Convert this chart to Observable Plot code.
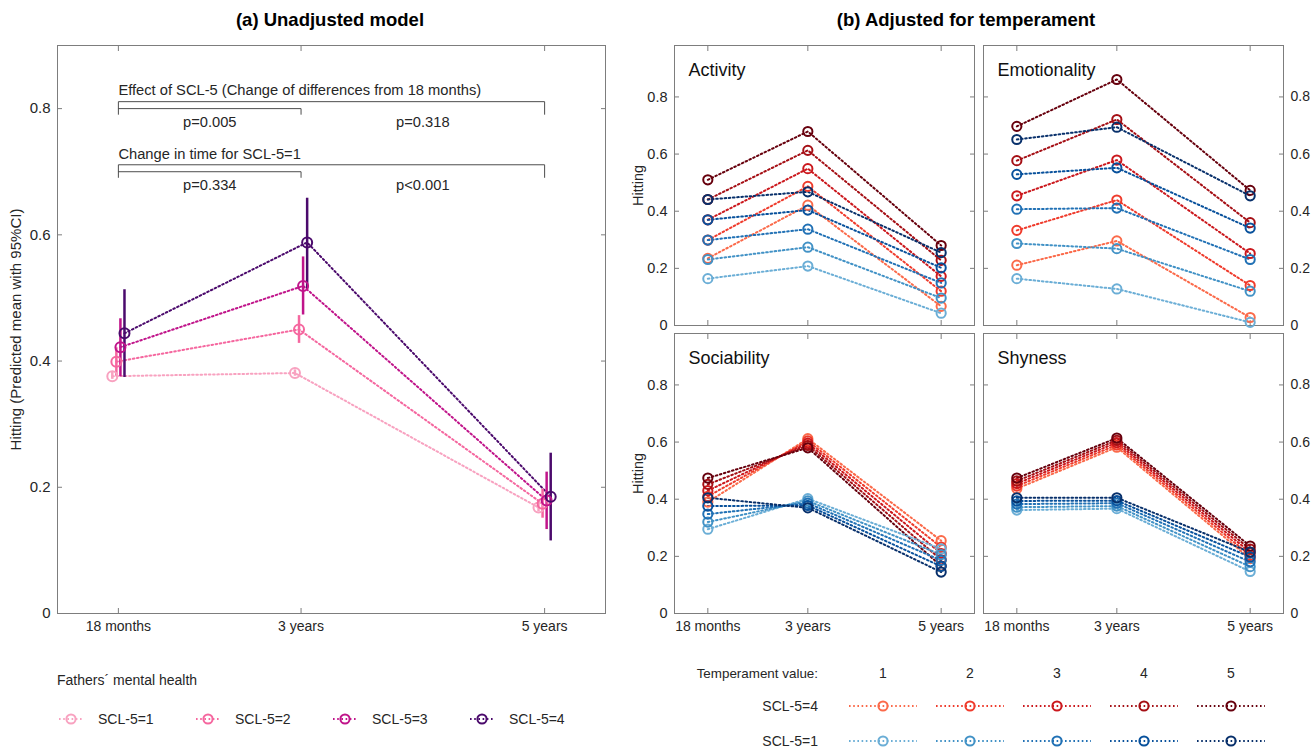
<!DOCTYPE html>
<html><head><meta charset="utf-8">
<script src="https://cdn.jsdelivr.net/npm/d3@7"></script>
<script src="https://cdn.jsdelivr.net/npm/@observablehq/plot@0.6"></script>
<style>
body{margin:0;background:#fff;font-family:"Liberation Sans",Arial,Helvetica,sans-serif;}
#root{position:relative;width:1312px;height:748px;overflow:hidden;background:#fff;}
.abs{position:absolute;}
.title{position:absolute;font-weight:bold;font-size:18.5px;color:#000;white-space:nowrap;transform:translate(-50%,-50%);}
</style></head><body><div id="root"></div>
<script>
// ---------- data ----------
const months = [18, 36, 60];
const timeLabels = ["18 months", "3 years", "5 years"];
const yTicks = [0, 0.2, 0.4, 0.6, 0.8];

// (a) Unadjusted model
const sclLabels = ["SCL-5=1", "SCL-5=2", "SCL-5=3", "SCL-5=4"];
const sclColors = ["#f8a2c0", "#f5679f", "#c0148a", "#4b0a6c"];
const sclDodge = [-0.6, -0.2, 0.2, 0.6];
const meanSCL = [[0.376, 0.381, 0.168], [0.399, 0.450, 0.174], [0.422, 0.519, 0.179], [0.444, 0.588, 0.185]];
const lowSCL  = [[0.371, 0.376, 0.161], [0.376, 0.428, 0.151], [0.375, 0.473, 0.133], [0.374, 0.514, 0.115]];
const highSCL = [[0.382, 0.386, 0.175], [0.421, 0.472, 0.197], [0.467, 0.565, 0.224], [0.513, 0.658, 0.254]];

const annotTexts = ["Effect of SCL-5 (Change of differences from 18 months)", "Change in time for SCL-5=1"];
const annotY = [0.829, 0.728];
const bracketTop = [0.811, 0.711];
const bracketMid = [0.800, 0.700];
const bracketBase = [0.791, 0.691];
const pFirst = ["p=0.005", "p=0.334"];
const pSecond = ["p=0.318", "p<0.001"];
const pY = [0.779, 0.679];

// (b) Adjusted for temperament: rows = temperament value 1..5, cols = 18m, 3y, 5y
const temperamentValues = [1, 2, 3, 4, 5];
const highColors = ["#fb6a4a", "#ef3b2c", "#cb181d", "#a50f15", "#67000d"]; // SCL-5=4
const lowColors  = ["#6baed6", "#4292c6", "#2171b5", "#08519c", "#08306b"]; // SCL-5=1

const activityHigh = [[0.235, 0.421, 0.067], [0.299, 0.487, 0.120], [0.370, 0.549, 0.172], [0.441, 0.613, 0.228], [0.510, 0.679, 0.280]];
const activityLow  = [[0.164, 0.208, 0.043], [0.231, 0.274, 0.096], [0.299, 0.337, 0.149], [0.370, 0.404, 0.202], [0.441, 0.468, 0.255]];
const emotionHigh  = [[0.211, 0.296, 0.028], [0.333, 0.439, 0.140], [0.454, 0.579, 0.252], [0.577, 0.721, 0.360], [0.697, 0.861, 0.473]];
const emotionLow   = [[0.164, 0.128, 0.011], [0.287, 0.269, 0.120], [0.407, 0.411, 0.231], [0.529, 0.552, 0.341], [0.651, 0.694, 0.454]];
const socialHigh   = [[0.390, 0.612, 0.255], [0.410, 0.604, 0.232], [0.430, 0.596, 0.210], [0.452, 0.588, 0.188], [0.474, 0.580, 0.166]];
const socialLow    = [[0.295, 0.402, 0.226], [0.320, 0.394, 0.206], [0.348, 0.386, 0.186], [0.376, 0.378, 0.165], [0.405, 0.370, 0.145]];
const shyHigh      = [[0.437, 0.582, 0.192], [0.446, 0.590, 0.203], [0.455, 0.598, 0.214], [0.464, 0.606, 0.225], [0.474, 0.614, 0.236]];
const shyLow       = [[0.362, 0.367, 0.147], [0.372, 0.376, 0.164], [0.383, 0.386, 0.181], [0.394, 0.395, 0.198], [0.405, 0.405, 0.215]];

// ---------- helpers ----------
const FONT = '"Liberation Sans", Arial, Helvetica, sans-serif';
const BOX = "#7d7d7d";
const TXT = "#262626";
const DASH = "1.6,2.6";
const root = document.getElementById("root");
function place(el, left, top) {
  const d = document.createElement("div");
  d.className = "abs"; d.style.left = left + "px"; d.style.top = top + "px";
  d.appendChild(el); root.appendChild(d); return d;
}
function title(text, cx, cy) {
  const d = document.createElement("div");
  d.className = "title"; d.textContent = text;
  d.style.left = cx + "px"; d.style.top = cy + "px";
  root.appendChild(d);
}
const baseStyle = {background: "transparent", fontFamily: FONT, fontSize: "14px", color: TXT, overflow: "visible"};
const fmtTime = d => timeLabels[months.indexOf(d)];

// ---------- (a) ----------
const leftRows = [];
sclLabels.forEach((g, gi) => months.forEach((m, ti) => leftRows.push({
  group: g, t: m + sclDodge[gi], mean: meanSCL[gi][ti], lo: lowSCL[gi][ti], hi: highSCL[gi][ti]
})));
const bracketRows = [];
bracketTop.forEach((yt, i) => {
  const L = "L" + i, S = "S" + i;
  bracketRows.push({k: L, x: months[0], y: bracketBase[i]}, {k: L, x: months[0], y: yt},
                   {k: L, x: months[2], y: yt}, {k: L, x: months[2], y: bracketBase[i]});
  bracketRows.push({k: S, x: months[0], y: bracketMid[i]}, {k: S, x: months[1], y: bracketMid[i]},
                   {k: S, x: months[1], y: bracketBase[i]});
});
const annotRows = annotTexts.map((t, i) => ({x: months[0], y: annotY[i], text: t}));
const pRows = [];
pFirst.forEach((p, i) => {
  pRows.push({x: (months[0] + months[1]) / 2, y: pY[i], text: p});
  pRows.push({x: (months[1] + months[2]) / 2, y: pY[i], text: pSecond[i]});
});

const leftPlot = Plot.plot({
  width: 620, height: 640, marginLeft: 57, marginRight: 15, marginTop: 45, marginBottom: 27,
  style: baseStyle,
  x: {domain: [12, 66]},
  y: {domain: [0, 0.9]},
  color: {domain: sclLabels, range: sclColors},
  marks: [
    Plot.axisX(months, {anchor: "bottom", tickSize: -5, tickPadding: 13, tickFormat: fmtTime, stroke: BOX, fill: TXT, label: null}),
    Plot.axisX(months, {anchor: "top", tickSize: -5, fill: "none", stroke: BOX, label: null}),
    Plot.axisY(yTicks, {anchor: "left", tickSize: -5, tickPadding: 12, tickFormat: d => String(d), stroke: BOX, fill: TXT,
      label: "Hitting (Predicted mean with 95%CI)", labelAnchor: "center", labelArrow: "none", labelOffset: 47, fontSize: 15}),
    Plot.axisY(yTicks, {anchor: "right", tickSize: -5, fill: "none", stroke: BOX, label: null}),
    Plot.frame({stroke: BOX, strokeWidth: 1}),
    Plot.line(bracketRows, {x: "x", y: "y", z: "k", stroke: "#4d4d4d", strokeWidth: 1}),
    Plot.text(annotRows, {x: "x", y: "y", text: "text", textAnchor: "start", fill: TXT, fontSize: 14.7}),
    Plot.text(pRows, {x: "x", y: "y", text: "text", textAnchor: "middle", fill: TXT, fontSize: 14.7}),
    Plot.line(leftRows, {x: "t", y: "mean", z: "group", stroke: "group", strokeWidth: 2, strokeDasharray: DASH}),
    Plot.ruleX(leftRows, {x: "t", y1: "lo", y2: "hi", stroke: "group", strokeWidth: 2.5}),
    Plot.dot(leftRows, {x: "t", y: "mean", stroke: "group", r: 5, strokeWidth: 2, fill: "none"})
  ]
});
place(leftPlot, 0, 0);

// ---------- (b) ----------
const seriesKeys = [], seriesColors = [];
temperamentValues.forEach((v, k) => { seriesKeys.push("SCL-5=4, T" + v); seriesColors.push(highColors[k]); });
temperamentValues.forEach((v, k) => { seriesKeys.push("SCL-5=1, T" + v); seriesColors.push(lowColors[k]); });

function facetPlot(name, high, low, opt) {
  const rows = [];
  high.forEach((vals, k) => months.forEach((m, ti) => rows.push({s: "SCL-5=4, T" + temperamentValues[k], t: m, v: vals[ti]})));
  low.forEach((vals, k) => months.forEach((m, ti) => rows.push({s: "SCL-5=1, T" + temperamentValues[k], t: m, v: vals[ti]})));
  const marks = [
    Plot.axisX(months, {anchor: "bottom", tickSize: -5, tickPadding: 13, tickFormat: fmtTime, stroke: BOX,
      fill: opt.xLabels ? TXT : "none", label: null}),
    Plot.axisX(months, {anchor: "top", tickSize: -5, fill: "none", stroke: BOX, label: null}),
    Plot.axisY(yTicks, {anchor: "left", tickSize: -5, tickPadding: 12, tickFormat: d => String(d), stroke: BOX,
      fill: opt.yLeft ? TXT : "none", label: opt.yLeft ? "Hitting" : null, labelAnchor: "center", labelArrow: "none", labelOffset: 42, fontSize: 14.5}),
    Plot.axisY(yTicks, {anchor: "right", tickSize: -5, tickPadding: 12, tickFormat: d => String(d), stroke: BOX,
      fill: opt.yLeft ? "none" : TXT, label: null}),
    Plot.frame({stroke: BOX, strokeWidth: 1}),
    Plot.text([name], {frameAnchor: "top-left", dx: 14, dy: 18, textAnchor: "start", fontSize: 18, fill: "#111"}),
    Plot.line(rows, {x: "t", y: "v", z: "s", stroke: "s", strokeWidth: 2, strokeDasharray: DASH}),
    Plot.dot(rows, {x: "t", y: "v", stroke: "s", r: 4.6, strokeWidth: 2, fill: "none"})
  ];
  return Plot.plot({
    width: opt.width, height: opt.height,
    marginLeft: opt.ml, marginRight: opt.mr, marginTop: opt.mt, marginBottom: opt.mb,
    style: baseStyle,
    x: {domain: [12, 66]},
    y: {domain: [0, 0.98]},
    color: {domain: seriesKeys, range: seriesColors},
    marks
  });
}
place(facetPlot("Activity", activityHigh, activityLow, {width: 392, height: 335, ml: 84, mr: 8, mt: 45, mb: 10, yLeft: true, xLabels: false}), 590, 0);
place(facetPlot("Emotionality", emotionHigh, emotionLow, {width: 337, height: 335, ml: 8, mr: 29, mt: 45, mb: 10, yLeft: false, xLabels: false}), 975, 0);
place(facetPlot("Sociability", socialHigh, socialLow, {width: 392, height: 320, ml: 84, mr: 8, mt: 13, mb: 27, yLeft: true, xLabels: true}), 590, 320);
place(facetPlot("Shyness", shyHigh, shyLow, {width: 337, height: 320, ml: 8, mr: 29, mt: 13, mb: 27, yLeft: false, xLabels: true}), 975, 320);

// ---------- titles ----------
title("(a) Unadjusted model", 330, 20);
title("(b) Adjusted for temperament", 966, 20);

// ---------- legends ----------
const leg = d3.create("svg").attr("width", 1312).attr("height", 108)
  .style("font-family", FONT).style("font-size", "14px").style("overflow", "visible");
function swatch(g, cx, cy, color, half) {
  g.append("line").attr("x1", cx - half).attr("x2", cx + half).attr("y1", cy).attr("y2", cy)
    .attr("stroke", color).attr("stroke-width", 2).attr("stroke-dasharray", DASH);
  g.append("circle").attr("cx", cx).attr("cy", cy).attr("r", 4.6).attr("fill", "none")
    .attr("stroke", color).attr("stroke-width", 2);
}
leg.append("text").attr("x", 57).attr("y", 40).attr("dy", "0.35em").attr("fill", TXT).text("Fathers\u00b4 mental health");
const legX = [71, 208, 345, 482];
sclLabels.forEach((lab, i) => {
  swatch(leg, legX[i], 79, sclColors[i], 12);
  leg.append("text").attr("x", legX[i] + 27).attr("y", 79).attr("dy", "0.35em").attr("fill", TXT).text(lab);
});
const colX = [883, 970, 1057, 1144, 1231];
leg.append("text").attr("x", 818).attr("y", 33).attr("dy", "0.35em").attr("text-anchor", "end").attr("fill", TXT).attr("font-size", 13.4).text("Temperament value:");
temperamentValues.forEach((v, i) => {
  leg.append("text").attr("x", colX[i]).attr("y", 33).attr("dy", "0.35em").attr("text-anchor", "middle").attr("fill", TXT).text(v);
  swatch(leg, colX[i], 66, highColors[i], 34);
  swatch(leg, colX[i], 101, lowColors[i], 34);
});
leg.append("text").attr("x", 818).attr("y", 66).attr("dy", "0.35em").attr("text-anchor", "end").attr("fill", TXT).text("SCL-5=4");
leg.append("text").attr("x", 818).attr("y", 101).attr("dy", "0.35em").attr("text-anchor", "end").attr("fill", TXT).text("SCL-5=1");
place(leg.node(), 0, 640);
</script></body></html>
